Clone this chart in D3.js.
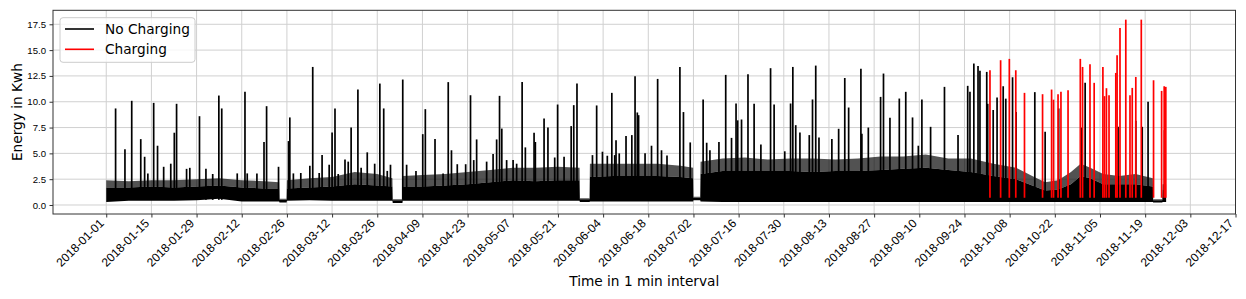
<!DOCTYPE html>
<html>
<head>
<meta charset="utf-8">
<script src="https://cdn.jsdelivr.net/npm/d3@7"></script>
<style>
  body { margin: 0; background: #fff; }
  svg { display: block; font-family: "DejaVu Sans", sans-serif; }
</style>
</head>
<body>
<div id="chart"></div>
<script>
// ---- data (days are counted from 2018-01-01 00:00) ----
const tickLabels = ["2018-01-01","2018-01-15","2018-01-29","2018-02-12","2018-02-26","2018-03-12",
  "2018-03-26","2018-04-09","2018-04-23","2018-05-07","2018-05-21","2018-06-04","2018-06-18",
  "2018-07-02","2018-07-16","2018-07-30","2018-08-13","2018-08-27","2018-09-10","2018-09-24",
  "2018-10-08","2018-10-22","2018-11-05","2018-11-19","2018-12-03","2018-12-17"];
const yTicks = [0, 2.5, 5, 7.5, 10, 12.5, 15, 17.5];

// dense body of the "No Charging" trace
const bandDay    = [0,7,14,21,28,35,42,49,53.6,53.7,55.9,56,63,70,77,84,88.7,88.8,91.8,91.9,98,105,112,119,126,133,140,146.7,146.8,149.8,149.9,157,164,171,178,181.9,182,184.1,184.2,191,198,205,212,219,226,233,240,247,254,261,268,275,282,287,291,295,299,302,305,309,314,319,324.4,324.5,327.3,327.4,328.5];
const bandLow    = [0.3,0.4,0.4,0.4,0.45,0.6,0.35,0.35,0.35,0.25,0.25,0.4,0.45,0.4,0.4,0.4,0.4,0.2,0.2,0.4,0.4,0.4,0.4,0.4,0.4,0.4,0.4,0.4,0.3,0.3,0.35,0.35,0.35,0.35,0.35,0.35,0.45,0.45,0.35,0.3,0.3,0.3,0.3,0.3,0.3,0.3,0.3,0.3,0.3,0.3,0.3,0.3,0.3,0.3,0.3,0.3,0.3,0.3,0.3,0.3,0.3,0.3,0.3,0.25,0.25,0.3,0.3];
const bandHigh   = [1.7,1.7,1.8,1.7,1.8,1.9,1.7,1.6,1.6,0.5,0.5,1.6,1.7,1.8,2.0,1.9,1.8,0.45,0.45,1.8,1.8,1.9,2.0,2.2,2.4,2.3,2.4,2.4,0.55,0.55,2.7,2.8,2.8,2.8,2.7,2.6,0.7,0.7,3.0,3.3,3.3,3.3,3.3,3.2,3.3,3.3,3.4,3.5,3.6,3.4,3.2,2.8,2.5,1.9,1.4,1.5,2.0,2.8,2.6,2.0,2.0,2.0,1.8,0.45,0.45,1.5,1.5];
const bandFringe = [2.4,2.3,2.4,2.4,2.5,2.6,2.4,2.3,2.2,0.6,0.6,2.4,2.6,2.7,3.2,3.0,2.6,0.55,0.55,2.8,2.9,3.0,3.2,3.4,3.6,3.6,3.7,3.6,0.65,0.65,4.0,4.0,4.0,4.0,3.8,3.6,0.8,0.8,4.2,4.5,4.6,4.4,4.5,4.5,4.4,4.5,4.7,4.7,4.9,4.5,4.5,4.0,3.6,2.8,2.2,2.4,3.2,4.0,3.6,3.0,2.8,3.0,2.6,0.55,0.55,2.0,2.0];

// single peaks of the "No Charging" trace
const blackDay  = [2.9,5.8,7.9,10.7,11.9,12.9,14.7,15.9,17.8,20.0,21.1,21.8,24.9,25.9,28.9,30.9,33.0,34.9,35.8,40.6,43.0,43.7,46.7,48.9,49.7,53.4,56.5,56.9,58.0,60.3,63.1,64.0,66.0,
  66.9,69.1,70.0,70.9,71.9,74.0,75.0,75.9,78.0,79.0,80.9,83.2,84.8,86.0,87.1,88.1,91.9,93.1,96.0,98.1,98.9,101.9,104.4,106.0,107.0,108.8,111.4,112.9,113.9,114.8,117.9,119.9,121.0,121.9,122.6,124.1,126.1,127.2,128.9,129.9,132.6,133.0,135.7,136.9,139.0,139.9,141.9,144.1,144.9,145.9,
  150.7,152.0,153.8,155.3,156.7,157.6,158.0,159.0,161.1,162.9,163.9,164.6,165.0,167.0,169.0,170.9,172.1,173.8,177.8,178.9,181.0,
  185.0,186.1,187.1,189.9,192.0,193.8,195.2,195.7,196.9,198.9,200.8,202.9,205.9,207.0,210.3,212.1,212.8,213.7,215.0,217.9,218.9,219.9,220.9,224.9,227.0,228.9,230.1,233.9,234.2,236.2,240.0,240.9,242.9,245.8,247.8,249.9,251.7,
  252.8,255.5,259.8,264.0,267.0,267.7,268.9,270.2,270.8,272.9,273.2,274.9,276.1,278.0,278.8,280.9,282.0,287.8,291.0,295.2,302.3,303.4,313.6,319.1,321.1,322.9,328.0];
const blackPeak = [9.35,5.41,10.09,6.38,4.67,3.06,9.89,5.74,3.7,4.0,7.0,9.8,3.5,3.6,8.6,3.5,3.0,10.6,9.35,3.06,10.96,3.06,3.06,6.1,9.57,3.7,6.19,8.48,3.06,3.1,3.8,13.37,3.1,
  4.83,3.9,7.03,9.35,3.0,4.4,4.2,7.5,11.18,3.6,5.1,4.0,11.76,9.35,3.3,3.9,12.15,3.9,3.3,6.86,9.28,6.38,3.06,11.9,5.3,3.95,3.95,10.63,4.35,6.35,4.2,4.93,6.35,10.57,7.4,4.35,4.35,4.0,11.92,5.58,7.0,6.1,8.38,7.5,4.6,9.73,4.67,7.64,9.67,11.76,
  4.83,9.64,5.16,4.77,10.86,4.83,6.28,5.0,6.67,6.77,12.47,8.96,8.7,5.0,5.74,12.21,5.3,4.8,13.37,9.0,6.06,
  10.22,6.03,5.3,6.1,12.6,6.5,9.83,8.2,8.28,12.67,9.8,5.87,13.25,9.73,5.2,9.83,13.37,7.73,7.03,6.77,10.22,13.5,6.54,6.4,7.38,12.3,9.44,13.2,6.9,7.5,10.47,12.73,8.44,10.31,10.96,8.48,5.74,
  10.22,7.57,11.44,6.77,11.54,10.96,13.7,13.47,12.99,12.89,9.8,9.2,10.4,11.5,10.3,12.37,9.0,10.93,7.1,9.35,7.5,11.83,7.57,8.15,7.57,9.99,7.25];

// "Charging" trace
const redDay  = [273.9,277.2,279.9,281.9,284.6,290.2,293.0,293.6,295.0,295.9,298.1,301.9,302.6,304.9,306.2,308.9,309.4,310.0,310.8,312.9,313.3,314.2,316.0,317.3,318.0,319.1,320.8,324.6,327.1,327.9,328.4];
const redPeak = [13.05,14.02,14.15,13.05,10.86,10.73,11.18,10.2,10.73,10.96,11.12,14.15,13.37,13.63,11.83,13.37,10.54,11.31,10.63,12.79,14.5,17.14,17.95,10.63,11.34,12.4,17.95,12.08,11.05,11.5,11.44];

const seriesNames  = ["No Charging", "Charging"];
const seriesColors = ["#000000", "#ff0000"];

// ---- layout ----
const width = 1246, height = 299;
const margin = {top: 10.3, right: 10.5, bottom: 85, left: 53};
const innerW = width - margin.left - margin.right;
const innerH = height - margin.top - margin.bottom;

const start = Date.UTC(2018, 0, 1);
const toDate = d => new Date(start + d * 864e5);

const x = d3.scaleUtc()
  .domain([toDate(-16.5), toDate(350)])
  .range([0, innerW]);
const y = d3.scaleLinear()
  .domain([-0.872, 18.855])
  .range([innerH, 0]);

const svg = d3.select("#chart").append("svg")
  .attr("width", width)
  .attr("height", height);

const g = svg.append("g")
  .attr("transform", "translate(" + margin.left + "," + margin.top + ")");

// grid
const tickDates = tickLabels.map(s => new Date(s + "T00:00:00Z"));
g.append("g").selectAll("line").data(tickDates).join("line")
  .attr("x1", d => x(d)).attr("x2", d => x(d))
  .attr("y1", 0).attr("y2", innerH)
  .attr("stroke", "#d0d0d0").attr("stroke-width", 1);
g.append("g").selectAll("line").data(yTicks).join("line")
  .attr("x1", 0).attr("x2", innerW)
  .attr("y1", d => y(d)).attr("y2", d => y(d))
  .attr("stroke", "#d0d0d0").attr("stroke-width", 1);

// dense body of the no-charging trace
const plot = g.append("g");
const band = bandDay.map((d, i) => ({t: toDate(d), lo: bandLow[i], hi: bandHigh[i], fr: bandFringe[i]}));
plot.append("path")
  .datum(band)
  .attr("d", d3.area().x(d => x(d.t)).y0(d => y(d.hi)).y1(d => y(d.fr)))
  .attr("fill", "#000").attr("fill-opacity", 0.68);
plot.append("path")
  .datum(band)
  .attr("d", d3.area().x(d => x(d.t)).y0(d => y(d.lo)).y1(d => y(d.hi)))
  .attr("fill", "#000");

// peaks
plot.append("g").selectAll("line").data(blackDay).join("line")
  .attr("x1", d => x(toDate(d))).attr("x2", d => x(toDate(d)))
  .attr("y1", y(0.5))
  .attr("y2", (d, i) => y(blackPeak[i]))
  .attr("stroke", seriesColors[0]).attr("stroke-width", 1.7);

plot.append("g").selectAll("line").data(redDay).join("line")
  .attr("x1", d => x(toDate(d))).attr("x2", d => x(toDate(d)))
  .attr("y1", y(0.7))
  .attr("y2", (d, i) => y(redPeak[i]))
  .attr("stroke", seriesColors[1]).attr("stroke-width", 1.7);

// axes
const xAxis = g.append("g")
  .attr("transform", "translate(0," + innerH + ")")
  .call(d3.axisBottom(x).tickValues(tickDates).tickFormat(d3.utcFormat("%Y-%m-%d")).tickSizeOuter(0).tickSize(3.5).tickPadding(3));
xAxis.select(".domain").remove();
xAxis.selectAll("line").attr("stroke", "#333");
xAxis.selectAll("text")
  .attr("font-size", "12px")
  .attr("fill", "#000")
  .attr("text-anchor", "end")
  .attr("dy", null)
  .attr("y", 0)
  .attr("transform", "translate(-2,10) rotate(-45)");

const yAxis = g.append("g")
  .call(d3.axisLeft(y).tickValues(yTicks).tickFormat(d3.format(".1f")).tickSizeOuter(0).tickSize(3.5).tickPadding(3.5));
yAxis.select(".domain").remove();
yAxis.selectAll("line").attr("stroke", "#333");
yAxis.selectAll("text").attr("font-size", "9.6px").attr("fill", "#000");

// frame
g.append("rect")
  .attr("width", innerW).attr("height", innerH)
  .attr("fill", "none").attr("stroke", "#333").attr("stroke-width", 1);

// axis titles
svg.append("text")
  .attr("x", margin.left + innerW / 2).attr("y", 281)
  .attr("text-anchor", "middle").attr("dominant-baseline", "central")
  .attr("font-size", "13.7px")
  .text("Time in 1 min interval");
svg.append("text")
  .attr("transform", "translate(17," + (margin.top + innerH / 2) + ") rotate(-90)")
  .attr("text-anchor", "middle").attr("dominant-baseline", "central")
  .attr("font-size", "13.7px")
  .text("Energy in Kwh");

// legend
const legend = svg.append("g").attr("transform", "translate(60,17.7)");
legend.append("rect")
  .attr("width", 135).attr("height", 44.6).attr("rx", 3)
  .attr("fill", "#fff").attr("fill-opacity", 0.8)
  .attr("stroke", "#ccc").attr("stroke-width", 1);
const item = legend.selectAll("g.item").data(seriesNames).join("g")
  .attr("class", "item")
  .attr("transform", (d, i) => "translate(0," + (11.3 + i * 20.3) + ")");
item.append("line")
  .attr("x1", 5).attr("x2", 34)
  .attr("stroke", (d, i) => seriesColors[i]).attr("stroke-width", 1.6);
item.append("text")
  .attr("x", 45).attr("dominant-baseline", "central")
  .attr("font-size", "13.7px")
  .text(d => d);
</script>
</body>
</html>
